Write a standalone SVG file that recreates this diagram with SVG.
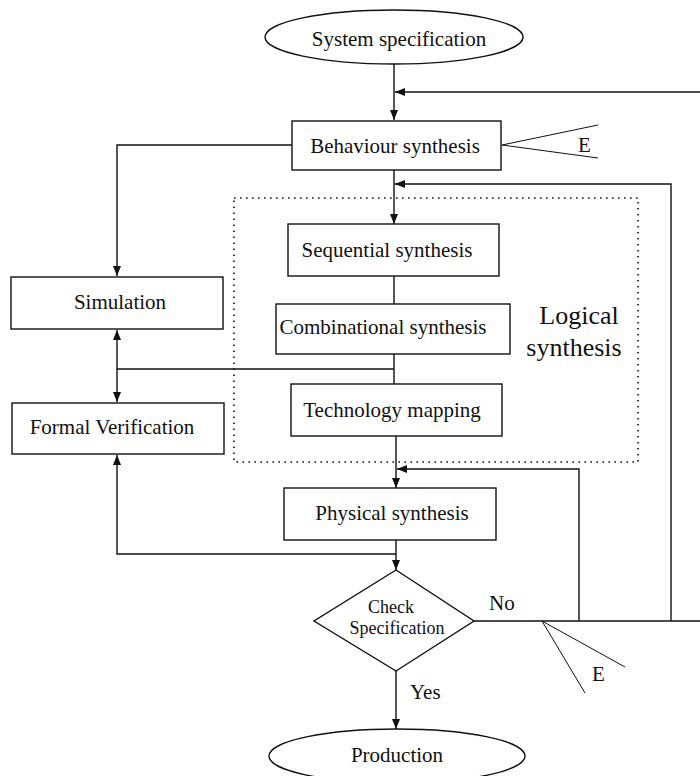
<svg xmlns="http://www.w3.org/2000/svg" width="700" height="776" viewBox="0 0 700 776">
<style>
.box{fill:#fff;stroke:#111;stroke-width:1.4}
.t{font-family:"Liberation Serif","Times New Roman",serif;font-size:21px;fill:#111}
.c{text-anchor:middle}
.ln{fill:none;stroke:#111;stroke-width:1.4}
.thin{fill:none;stroke:#111;stroke-width:1}
.dot{fill:none;stroke:#111;stroke-width:1.6;stroke-dasharray:1.6 4.4}
</style>
<defs>
<marker id="ah" markerUnits="userSpaceOnUse" markerWidth="10" markerHeight="8" refX="10" refY="4" orient="auto">
<path d="M0,0 L10,4 L0,8 z" fill="#111"/>
</marker>
</defs>
<rect x="0" y="0" width="700" height="776" fill="#fff"/>

<g id="logical-synthesis-region">
<rect class="dot" x="234" y="198" width="404" height="264"/>
<text class="t c" x="579" y="324" style="font-size:26px">Logical</text>
<text class="t c" x="574" y="356" style="font-size:26px">synthesis</text>
</g>

<g id="connectors">
<path class="ln" d="M394,64 V120" marker-end="url(#ah)"/>
<path class="ln" d="M700,92 H395" marker-end="url(#ah)"/>
<path class="ln" d="M292,145 H117 V276" marker-end="url(#ah)"/>
<path class="ln" d="M394,170 V224" marker-end="url(#ah)"/>
<path class="ln" d="M671,621 V184 H395" marker-end="url(#ah)"/>
<path class="ln" d="M394,276 V304"/>
<path class="ln" d="M394,354 V384"/>
<path class="ln" d="M394,369 H117"/>
<path class="ln" d="M117,369 V330" marker-end="url(#ah)"/>
<path class="ln" d="M117,369 V402" marker-end="url(#ah)"/>
<path class="ln" d="M396,436 V488" marker-end="url(#ah)"/>
<path class="ln" d="M579,621 V469 H397" marker-end="url(#ah)"/>
<path class="ln" d="M396,540 V570" marker-end="url(#ah)"/>
<path class="ln" d="M396,554 H117 V455" marker-end="url(#ah)"/>
<path class="ln" d="M474,621 H700"/>
<path class="ln" d="M396,671 V729" marker-end="url(#ah)"/>
<path class="thin" d="M598,125 L502,145 L598,158"/>
<path class="thin" d="M625,667 L542,621 L585,693"/>
<text class="t" x="578" y="152">E</text>
<text class="t" x="592" y="681">E</text>
<text class="t" x="489" y="610">No</text>
<text class="t" x="410" y="699">Yes</text>
</g>

<g id="system-specification">
<ellipse class="box" cx="394" cy="37" rx="129" ry="27"/>
<text class="t c" x="399" y="46">System specification</text>
</g>

<g id="behaviour-synthesis">
<rect class="box" x="292" y="121" width="209" height="49"/>
<text class="t c" x="395" y="153">Behaviour synthesis</text>
</g>

<g id="sequential-synthesis">
<rect class="box" x="288" y="224" width="211" height="52"/>
<text class="t c" x="387" y="257">Sequential synthesis</text>
</g>

<g id="combinational-synthesis">
<rect class="box" x="276" y="304" width="234" height="50"/>
<text class="t c" x="383" y="334">Combinational synthesis</text>
</g>

<g id="technology-mapping">
<rect class="box" x="291" y="384" width="211" height="52"/>
<text class="t c" x="392" y="417">Technology mapping</text>
</g>

<g id="simulation">
<rect class="box" x="11" y="277" width="212" height="52"/>
<text class="t c" x="120" y="309">Simulation</text>
</g>

<g id="formal-verification">
<rect class="box" x="12" y="403" width="212" height="51"/>
<text class="t c" x="112" y="434">Formal Verification</text>
</g>

<g id="physical-synthesis">
<rect class="box" x="284" y="488" width="212" height="52"/>
<text class="t c" x="392" y="520">Physical synthesis</text>
</g>

<g id="check-specification">
<polygon class="box" points="396,570 474,621 396,671 314,621"/>
<text class="t c" x="391" y="613" style="font-size:18px">Check</text>
<text class="t c" x="397" y="634" style="font-size:18px">Specification</text>
</g>

<g id="production">
<ellipse class="box" cx="397" cy="756" rx="128" ry="27"/>
<text class="t c" x="397" y="762">Production</text>
</g>
</svg>
